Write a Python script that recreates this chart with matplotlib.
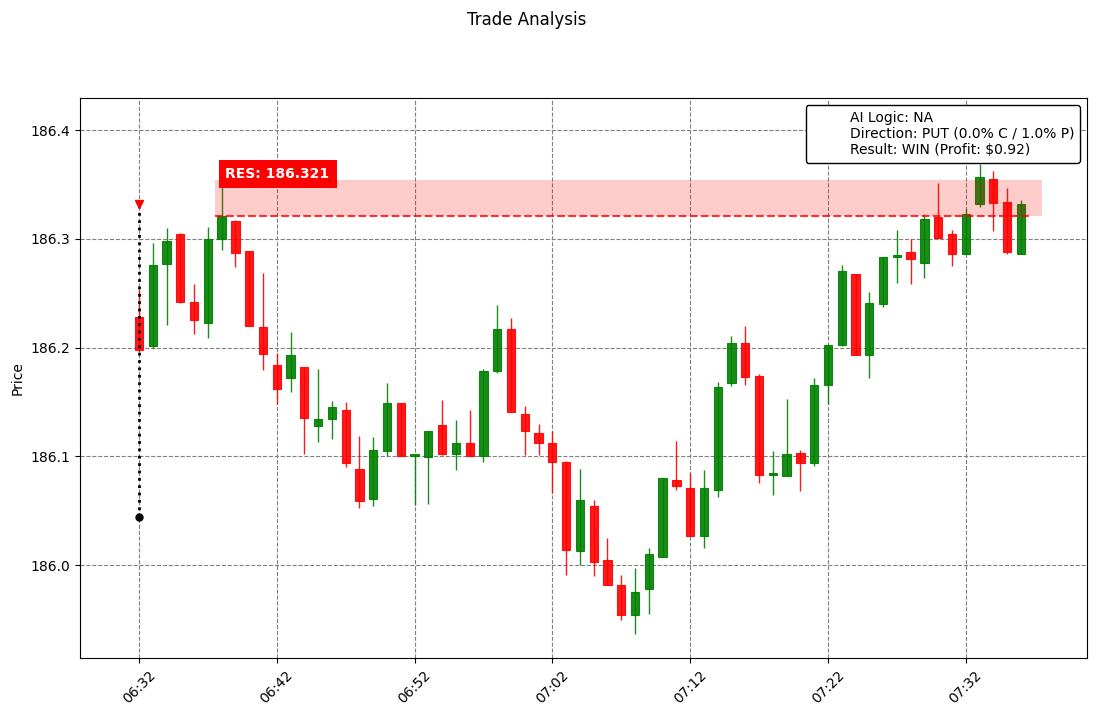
import matplotlib
matplotlib.use('Agg')
import matplotlib.pyplot as plt
import matplotlib.dates as mdates
from matplotlib.lines import Line2D
import numpy as np
import pandas as pd

# 1-minute candles, 06:32 -> 07:36
times = pd.date_range('2024-01-01 06:32', periods=65, freq='1min')

opens = [186.228, 186.201, 186.277, 186.304, 186.242, 186.223, 186.300, 186.316, 186.289, 186.219,
         186.184, 186.172, 186.182, 186.128, 186.134, 186.143, 186.088, 186.061, 186.105, 186.149,
         186.100, 186.099, 186.129, 186.102, 186.112, 186.100, 186.178, 186.217, 186.139, 186.121,
         186.112, 186.095, 186.013, 186.054, 186.005, 185.982, 185.954, 185.978, 186.007, 186.078,
         186.071, 186.027, 186.069, 186.167, 186.204, 186.174, 186.083, 186.082, 186.103, 186.094,
         186.166, 186.202, 186.268, 186.193, 186.240, 186.283, 186.288, 186.278, 186.320, 186.304,
         186.286, 186.332, 186.355, 186.334, 186.286]
highs = [186.253, 186.296, 186.310, 186.305, 186.258, 186.311, 186.356, 186.317, 186.289, 186.269,
         186.195, 186.214, 186.182, 186.180, 186.151, 186.150, 186.119, 186.118, 186.167, 186.149,
         186.102, 186.123, 186.152, 186.133, 186.143, 186.180, 186.239, 186.227, 186.146, 186.130,
         186.123, 186.096, 186.088, 186.060, 186.025, 185.991, 185.997, 186.016, 186.080, 186.114,
         186.085, 186.087, 186.168, 186.211, 186.220, 186.176, 186.105, 186.153, 186.106, 186.172,
         186.202, 186.276, 186.268, 186.251, 186.283, 186.308, 186.300, 186.323, 186.351, 186.308,
         186.327, 186.369, 186.362, 186.347, 186.336]
lows = [186.196, 186.200, 186.221, 186.241, 186.212, 186.209, 186.290, 186.274, 186.220, 186.179,
        186.148, 186.159, 186.102, 186.113, 186.116, 186.090, 186.052, 186.054, 186.100, 186.100,
        186.055, 186.056, 186.101, 186.087, 186.100, 186.095, 186.177, 186.141, 186.101, 186.101,
        186.066, 185.991, 186.000, 185.990, 185.982, 185.949, 185.937, 185.955, 186.007, 186.069,
        186.027, 186.016, 186.063, 186.165, 186.166, 186.075, 186.064, 186.082, 186.068, 186.091,
        186.148, 186.201, 186.193, 186.172, 186.237, 186.259, 186.258, 186.264, 186.301, 186.275,
        186.286, 186.329, 186.307, 186.286, 186.286]
closes = [186.198, 186.276, 186.298, 186.242, 186.225, 186.300, 186.321, 186.287, 186.220, 186.194,
          186.162, 186.193, 186.135, 186.134, 186.145, 186.094, 186.059, 186.106, 186.149, 186.100,
          186.102, 186.123, 186.102, 186.112, 186.100, 186.178, 186.217, 186.141, 186.123, 186.112,
          186.095, 186.014, 186.060, 186.003, 185.982, 185.954, 185.975, 186.010, 186.080, 186.073,
          186.027, 186.071, 186.164, 186.204, 186.173, 186.083, 186.085, 186.102, 186.094, 186.166,
          186.202, 186.270, 186.193, 186.241, 186.283, 186.285, 186.281, 186.318, 186.301, 186.286,
          186.323, 186.357, 186.333, 186.288, 186.332]

res_level = 186.321
res_top = 186.354
entry_marker = 186.332
entry_price = 186.044
info = ["AI Logic: NA",
        "Direction: PUT (0.0% C / 1.0% P)",
        "Result: WIN (Profit: $0.92)"]

df = pd.DataFrame({'open': opens, 'high': highs, 'low': lows, 'close': closes}, index=times)
x = mdates.date2num(df.index)
minute = 1.0 / 1440

fig = plt.figure(figsize=(10.97, 7.16), dpi=100)
ax = fig.add_axes([0.0729, 0.081, 0.918, 0.782])

up = df['close'] >= df['open']
colors = np.where(up, 'green', 'red')
body_lo = np.minimum(df['open'], df['close'])
body_h = np.abs(df['close'] - df['open'])

ax.vlines(x, df['low'], df['high'], colors=colors, linewidth=1, alpha=0.9, zorder=2)
ax.bar(x, body_h, bottom=body_lo, width=0.6 * minute, color=colors, edgecolor=colors,
       linewidth=0.8, alpha=0.9, zorder=3)

# resistance zone
x0 = x[0] + 5.5 * minute
x1 = x[0] + 65.5 * minute
ax.fill_between([x0, x1], res_level, res_top, color='red', alpha=0.2, linewidth=0, zorder=4)
ax.plot([x0, x[0] + 64.6 * minute], [res_level, res_level], color='red', linestyle='--',
        linewidth=1.5, alpha=0.8, zorder=5)
ax.text(x[0] + 6.28 * minute, 186.3595, f'RES: {res_level:.3f}', color='white', fontsize=10,
        fontweight='bold', va='center', ha='left',
        bbox=dict(facecolor='red', edgecolor='none', pad=5), zorder=6)

# entry
ax.plot([x[0], x[0]], [entry_price, entry_marker], color='black', linestyle=':', linewidth=2, zorder=5)
ax.plot(x[0], entry_marker, marker='v', color='red', markersize=6, zorder=6)
ax.plot(x[0], entry_price, marker='o', color='black', markersize=5, zorder=6)

ax.legend([Line2D([], [], color='none')], ['\n'.join(info)], loc='upper right',
          edgecolor='black', framealpha=1, fontsize=10)

ax.set_xlim(x[0] - 4.28 * minute, x[0] + 68.8 * minute)
ax.set_ylim(185.9145, 186.4294)
ax.xaxis.set_major_locator(mdates.MinuteLocator(byminute=[2, 12, 22, 32, 42, 52]))
ax.xaxis.set_major_formatter(mdates.DateFormatter('%H:%M'))
plt.setp(ax.get_xticklabels(), rotation=45)
ax.set_yticks([186.0, 186.1, 186.2, 186.3, 186.4])
ax.grid(True, linestyle='--', color='gray', linewidth=0.8)
ax.set_axisbelow(True)
ax.set_ylabel('Price')
fig.suptitle('Trade Analysis', x=0.48, y=0.985)

fig.savefig('out.png', dpi=100)
